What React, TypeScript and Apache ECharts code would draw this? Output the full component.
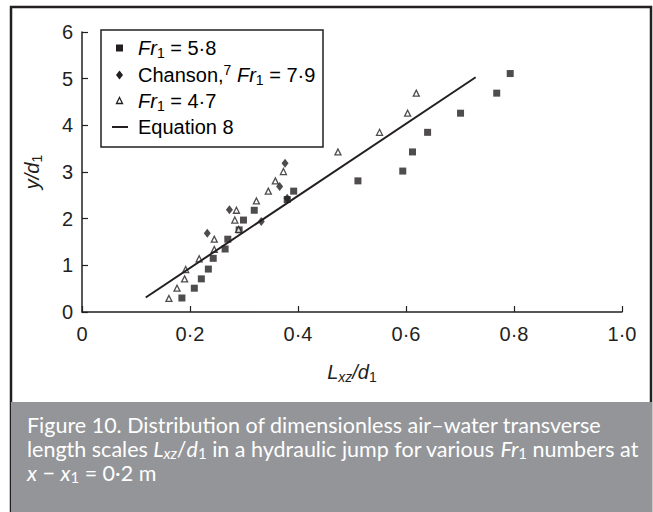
import React, { useEffect, useRef } from "react";
import * as echarts from "echarts";

// Fr1 = 5.8 (filled squares)
const fr58X = [0.185, 0.208, 0.221, 0.234, 0.243, 0.265, 0.27, 0.291, 0.299, 0.319, 0.38, 0.392, 0.511, 0.594, 0.612, 0.64, 0.701, 0.768, 0.793];
const fr58Y = [0.3, 0.51, 0.71, 0.92, 1.15, 1.35, 1.56, 1.76, 1.97, 2.18, 2.41, 2.59, 2.81, 3.02, 3.43, 3.85, 4.26, 4.69, 5.11];
// Chanson, Fr1 = 7.9 (filled diamonds)
const chansonX = [0.232, 0.273, 0.332, 0.366, 0.376, 0.38];
const chansonY = [1.69, 2.19, 1.94, 2.69, 3.19, 2.44];
// Fr1 = 4.7 (open triangles)
const fr47X = [0.161, 0.176, 0.19, 0.192, 0.217, 0.245, 0.245, 0.29, 0.283, 0.286, 0.323, 0.345, 0.358, 0.373, 0.474, 0.551, 0.603, 0.619];
const fr47Y = [0.29, 0.51, 0.71, 0.91, 1.14, 1.34, 1.56, 1.77, 1.97, 2.18, 2.38, 2.59, 2.81, 3.01, 3.43, 3.85, 4.26, 4.69];
// Equation 8 line
const eqX = [0.118, 0.729];
const eqY = [0.31, 5.03];

const seriesNames = ["Fr1 = 5·8", "Chanson, Fr1 = 7·9", "Fr1 = 4·7", "Equation 8"];
const legendLabels = [
  "{i|Fr}{sub|1}{n| = 5·8}",
  "{n|Chanson,}{sup|7}{n| }{i|Fr}{sub|1}{n| = 7·9}",
  "{i|Fr}{sub|1}{n| = 4·7}",
  "{n|Equation 8}",
];
const xTickLabels = ["0", "0·2", "0·4", "0·6", "0·8", "1·0"];

const zip = (xs: number[], ys: number[]) => xs.map((x, i) => [x, ys[i]]);

const INK = "#231f20";
const FONT = "Liberation Sans";

function makeRich(font: string, size: number, subSize: number, color: string, lh: number, shift: number) {
  return {
    n: { fontFamily: font, fontSize: size, color, lineHeight: lh },
    i: { fontFamily: font, fontSize: size, color, fontStyle: "italic", lineHeight: lh },
    sub: { fontFamily: font, fontSize: subSize, color, lineHeight: lh, padding: [shift, 0, 0, 0] },
    isub: { fontFamily: font, fontSize: subSize, color, fontStyle: "italic", lineHeight: lh, padding: [shift, 0, 0, 0] },
    sup: { fontFamily: font, fontSize: subSize, color, lineHeight: lh, padding: [0, 0, shift, 0] },
  };
}

export default function App() {
  const ref = useRef<HTMLDivElement>(null);
  useEffect(() => {
    document.body.style.margin = "0";
    if (!ref.current) return;
    const chart = echarts.init(ref.current, undefined, { renderer: "svg" });
    const richBase = makeRich(FONT, 20, 14, INK, 24, 10);
    const capRich = makeRich("Lato", 21.5, 15, "#fff", 24, 8);

    const legendRowsY = [48, 75, 101, 127];
    const legendGraphics: any[] = [
      {
        type: "rect",
        shape: { x: 101, y: 30, width: 222, height: 117 },
        style: { fill: "#fff", stroke: INK, lineWidth: 1.5 },
        z: 100,
      },
      {
        type: "rect",
        shape: { x: 116, y: legendRowsY[0] - 3.5, width: 7, height: 7 },
        style: { fill: INK },
        z: 101,
      },
      {
        type: "polygon",
        shape: {
          points: [
            [119.5, legendRowsY[1] - 4.5],
            [123, legendRowsY[1]],
            [119.5, legendRowsY[1] + 4.5],
            [116, legendRowsY[1]],
          ],
        },
        style: { fill: INK },
        z: 101,
      },
      {
        type: "polygon",
        shape: {
          points: [
            [119.5, legendRowsY[2] - 3.5],
            [122.5, legendRowsY[2] + 2.5],
            [116.5, legendRowsY[2] + 2.5],
          ],
        },
        style: { fill: "#fff", stroke: INK, lineWidth: 1.3 },
        z: 101,
      },
      {
        type: "line",
        shape: { x1: 112, y1: legendRowsY[3], x2: 128, y2: legendRowsY[3] },
        style: { stroke: INK, lineWidth: 2 },
        z: 101,
      },
    ];
    legendLabels.forEach((t, k) => {
      legendGraphics.push({
        type: "text",
        x: 138,
        y: legendRowsY[k],
        z: 101,
        style: { text: t, rich: richBase, verticalAlign: "middle", align: "left" },
      });
    });

    chart.setOption({
      animation: false,
      backgroundColor: "#fff",
      grid: { left: 82, right: 31, top: 32, bottom: 200, containLabel: false },
      tooltip: { show: false },
      xAxis: {
        type: "value",
        min: 0,
        max: 1,
        interval: 0.2,
        name: "{i|L}{isub|xz}{i|/d}{sub|1}",
        nameLocation: "middle",
        nameGap: 48,
        nameTextStyle: { rich: richBase },
        axisLine: { show: true, lineStyle: { color: INK, width: 1.5 } },
        axisTick: { show: true, inside: true, length: 6, lineStyle: { color: INK, width: 1.2 } },
        axisLabel: {
          formatter: (v: number) => xTickLabels[Math.round(v * 5)],
          color: INK,
          fontFamily: FONT,
          fontSize: 20,
          margin: 12,
        },
        splitLine: { show: false },
      },
      yAxis: {
        type: "value",
        min: 0,
        max: 6,
        interval: 1,
        name: "{i|y/d}{sub|1}",
        nameLocation: "middle",
        nameRotate: 90,
        nameGap: 38,
        nameTextStyle: { rich: richBase },
        axisLine: { show: true, lineStyle: { color: INK, width: 1.5 } },
        axisTick: { show: true, inside: true, length: 6, lineStyle: { color: INK, width: 1.2 } },
        axisLabel: { color: INK, fontFamily: FONT, fontSize: 20, margin: 9 },
        splitLine: { show: false },
      },
      graphic: [
        ...legendGraphics,
        {
          type: "rect",
          shape: { x: 11, y: 7, width: 640, height: 520 },
          style: { fill: "none", stroke: INK, lineWidth: 2.5 },
          z: 100,
        },
        {
          type: "rect",
          shape: { x: 11, y: 402, width: 641, height: 120 },
          style: { fill: "#939598" },
          z: 101,
        },
        {
          type: "text",
          x: 27,
          y: 413,
          z: 102,
          style: {
            text:
              "{n|Figure 10. Distribution of dimensionless air–water transverse}\n" +
              "{n|length scales }{i|L}{isub|xz}{n|/}{i|d}{sub|1}{n| in a hydraulic jump for various }{i|Fr}{sub|1}{n| numbers at}\n" +
              "{i|x}{n| − }{i|x}{sub|1}{n| = 0·2 m}",
            rich: capRich,
            fill: "#fff",
          },
        },
      ],
      series: [
        {
          name: seriesNames[0],
          type: "scatter",
          symbol: "rect",
          symbolSize: 7,
          itemStyle: { color: INK },
          data: zip(fr58X, fr58Y),
        },
        {
          name: seriesNames[1],
          type: "scatter",
          symbol: "diamond",
          symbolSize: [7, 9],
          itemStyle: { color: INK },
          data: zip(chansonX, chansonY),
        },
        {
          name: seriesNames[2],
          type: "scatter",
          symbol: "triangle",
          symbolSize: 6,
          itemStyle: { color: "#fff", borderColor: INK, borderWidth: 1.3 },
          data: zip(fr47X, fr47Y),
        },
        {
          name: seriesNames[3],
          type: "line",
          symbol: "none",
          lineStyle: { color: INK, width: 2 },
          data: zip(eqX, eqY),
        },
      ],
    });
    return () => chart.dispose();
  }, []);
  return (
    <div
      ref={ref}
      style={{ width: 653, height: 512, overflow: "hidden" }}
    />
  );
}
